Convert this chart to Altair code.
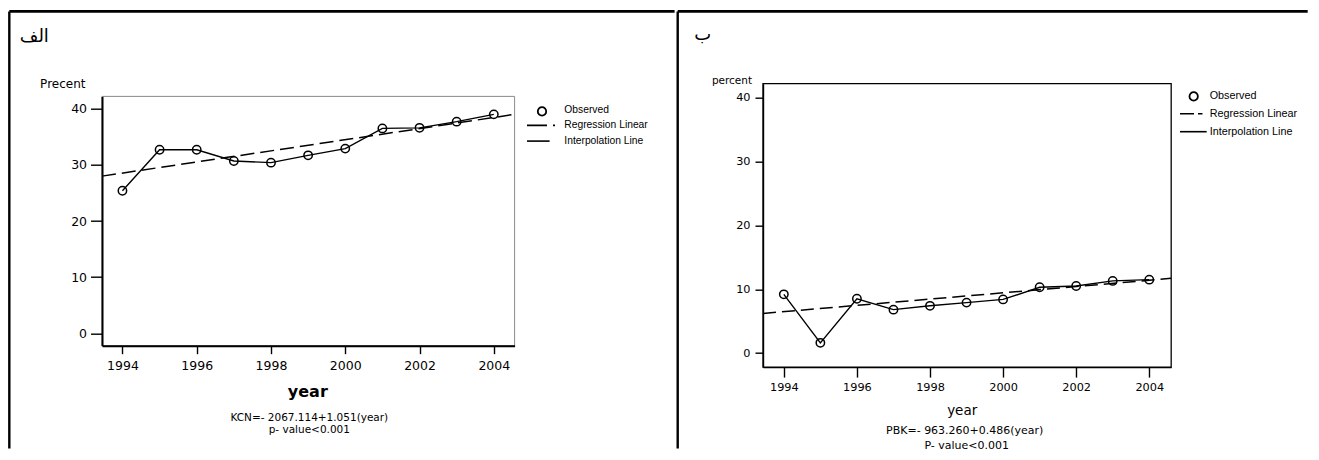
import altair as alt
import pandas as pd

# ---------------- data ----------------
years = [1994, 1995, 1996, 1997, 1998, 1999, 2000, 2001, 2002, 2003, 2004]
kcn_values = [25.4, 32.7, 32.7, 30.7, 30.4, 31.7, 32.9, 36.5, 36.6, 37.7, 39.0]
pbk_values = [9.2, 1.6, 8.5, 6.8, 7.4, 7.9, 8.4, 10.3, 10.5, 11.3, 11.5]
kcn_fit_years = [1993.45, 2004.56]
kcn_fit_values = [28.0, 39.0]
pbk_fit_years = [1993.43, 2004.6]
pbk_fit_values = [6.2, 11.7]
x_ticks = [1994, 1996, 1998, 2000, 2002, 2004]
y_ticks = [0, 10, 20, 30, 40]
legend_labels = ["Observed", "Regression Linear", "Interpolation Line"]
panel_titles = ["الف", "ب"]
y_titles = ["Precent", "percent"]
x_title = "year"
kcn_equation = ["KCN=- 2067.114+1.051(year)", "p- value<0.001"]
pbk_equation = ["PBK=- 963.260+0.486(year)", "P- value<0.001"]

FONT = "DejaVu Sans"
LEG = "Liberation Sans"
one = pd.DataFrame({"k": [0]})


def x_axis(tick, pad, lsize, dw, tx, ty, tsize, tweight):
    return alt.Axis(
        values=x_ticks, format="d",
        tickSize=tick, tickWidth=1.4, tickColor="black",
        domainWidth=dw, domainColor="black",
        labelFont=FONT, labelFontSize=lsize, labelPadding=pad, labelColor="black",
        labelFlush=False, labelOverlap=False, grid=False,
        title=x_title, titleFont=FONT, titleFontSize=tsize, titleFontWeight=tweight,
        titleColor="black", titleX=tx, titleY=ty, titleAlign="center",
        titleBaseline="alphabetic", zindex=1,
    )


def y_axis(tick, pad, lsize, dw, title, tx, ty, tsize):
    return alt.Axis(
        values=y_ticks,
        tickSize=tick, tickWidth=1.4, tickColor="black",
        domainWidth=dw, domainColor="black",
        labelFont=FONT, labelFontSize=lsize, labelPadding=pad, labelColor="black",
        labelOverlap=False, grid=False,
        title=title, titleFont=FONT, titleFontSize=tsize, titleFontWeight="normal",
        titleColor="black", titleAngle=0, titleX=tx, titleY=ty, titleAlign="left",
        titleBaseline="alphabetic", zindex=1,
    )


def txt(s, x, y, size, align="center", baseline="middle", font=FONT):
    return alt.Chart(one).mark_text(
        text=s, align=align, baseline=baseline, font=font, fontSize=size, color="black",
    ).encode(x=alt.value(x), y=alt.value(y))


def hrule(x1, x2, y, width=1.4, dash=None):
    kw = {"strokeDash": dash} if dash else {}
    return alt.Chart(one).mark_rule(color="black", strokeWidth=width, **kw).encode(
        x=alt.value(x1), x2=alt.value(x2), y=alt.value(y))


def vrule(x, y1, y2, width=2.4):
    return alt.Chart(one).mark_rule(color="black", strokeWidth=width).encode(
        x=alt.value(x), y=alt.value(y1), y2=alt.value(y2))


def legend_dot(x, y):
    return alt.Chart(one).mark_point(
        shape="circle", filled=False, color="black", size=70, strokeWidth=1.8, opacity=1
    ).encode(x=alt.value(x), y=alt.value(y))


def panel(values, fit_years, fit_values, xdom, ydom, w, h, yrange, box_color, box_w,
          xaxis, yaxis, decor, dash):
    obs = pd.DataFrame({"year": years, "value": values})
    fit = pd.DataFrame({"year": fit_years, "value": fit_values})
    corners = pd.DataFrame({"x": [xdom[0]], "x2": [xdom[1]],
                            "y": [ydom[0]], "y2": [ydom[1]]})
    xs = alt.Scale(domain=xdom, nice=False, zero=False)
    ys = alt.Scale(domain=ydom, range=yrange, nice=False, zero=False)
    box = alt.Chart(corners).mark_rect(
        filled=False, stroke=box_color, strokeWidth=box_w
    ).encode(
        x=alt.X("x:Q", scale=xs, axis=xaxis),
        x2="x2:Q",
        y=alt.Y("y:Q", scale=ys, axis=yaxis),
        y2="y2:Q",
    )
    fit_line = alt.Chart(fit).mark_line(
        color="black", strokeWidth=1.5, strokeDash=dash
    ).encode(
        x=alt.X("year:Q", scale=xs),
        y=alt.Y("value:Q", scale=ys),
    )
    obs_line = alt.Chart(obs).mark_line(color="black", strokeWidth=1.4).encode(
        x=alt.X("year:Q", scale=xs),
        y=alt.Y("value:Q", scale=ys),
    )
    pts = alt.Chart(obs).mark_point(
        shape="circle", filled=False, color="black", size=70, strokeWidth=1.5, opacity=1
    ).encode(
        x=alt.X("year:Q", scale=xs),
        y=alt.Y("value:Q", scale=ys),
    )
    return alt.layer(box, fit_line, obs_line, pts, *decor).properties(width=w, height=h)


# both panels: plot group origin on page at y = 83.3
# left panel origin x = 101.7 (plot box spans page y 96 .. 345.3)
left_decor = [
    vrule(-92.7, -72.3, 364.7),
    hrule(-92.7, 572.6, -72.3, 2.6),
    txt(panel_titles[0], -67.7, -41.3, 18, baseline="alphabetic"),
    txt(kcn_equation[0], 207.3, 334.4, 10.5),
    txt(kcn_equation[1], 207.3, 346.2, 10.5),
    legend_dot(440, 27.7),
    txt(legend_labels[0], 462.3, 26.2, 10.3, align="left", font=LEG),
    hrule(425, 453.8, 41.7, 1.6, [20, 6, 2, 60]),
    txt(legend_labels[1], 462.3, 41.7, 10.3, align="left", font=LEG),
    hrule(425, 447.6, 57.4, 1.6),
    txt(legend_labels[2], 462.3, 57.4, 10.3, align="left", font=LEG),
]
left = panel(
    kcn_values, kcn_fit_years, kcn_fit_values,
    [1993.45, 2004.56], [-2.2, 42.2], 412.6, 262, [262, 12.7], "#8a8a8a", 1,
    x_axis(8, 6, 12.5, 2, 205.3, 50.7, 16, "bold"),
    y_axis(11.5, 4, 12.5, 2, y_titles[0], -62.4, 3.4, 12),
    left_decor, [14, 6],
)

# right panel origin x = 762.3
right_decor = [
    vrule(-85.3, -72.3, 364.7),
    hrule(-85.3, 544.7, -72.3, 2.6),
    txt(panel_titles[1], -60.3, -43.3, 18, baseline="alphabetic"),
    txt(pbk_equation[0], 201.7, 347.4, 11),
    txt(pbk_equation[1], 203.7, 362.7, 11),
    legend_dot(430.7, 12.7),
    txt(legend_labels[0], 446.7, 12.2, 10.8, align="left", font=LEG),
    hrule(417, 439.5, 30, 1.6, [14, 4, 4.5, 60]),
    txt(legend_labels[1], 446.7, 30, 10.8, align="left", font=LEG),
    hrule(417, 443.7, 48, 1.6),
    txt(legend_labels[2], 446.7, 48, 10.8, align="left", font=LEG),
]
right = panel(
    pbk_values, pbk_fit_years, pbk_fit_values,
    [1993.43, 2004.6], [-2.2, 42.2], 408.2, 283.4, [283.4, 0], "black", 1.3,
    x_axis(10, 4.5, 11.3, 1.4, 198.7, 47.3, 13.5, "normal"),
    y_axis(8, 5, 11.3, 1.4, y_titles[1], -51.6, -0.6, 10.5),
    right_decor, [13, 6],
)

chart = alt.hconcat(left, right, spacing=0).properties(
    padding={"left": 0, "top": 1.7, "right": 0, "bottom": 0}
).configure_view(strokeOpacity=0)

chart.save("out.html", embed_options={"renderer": "svg", "actions": False})
